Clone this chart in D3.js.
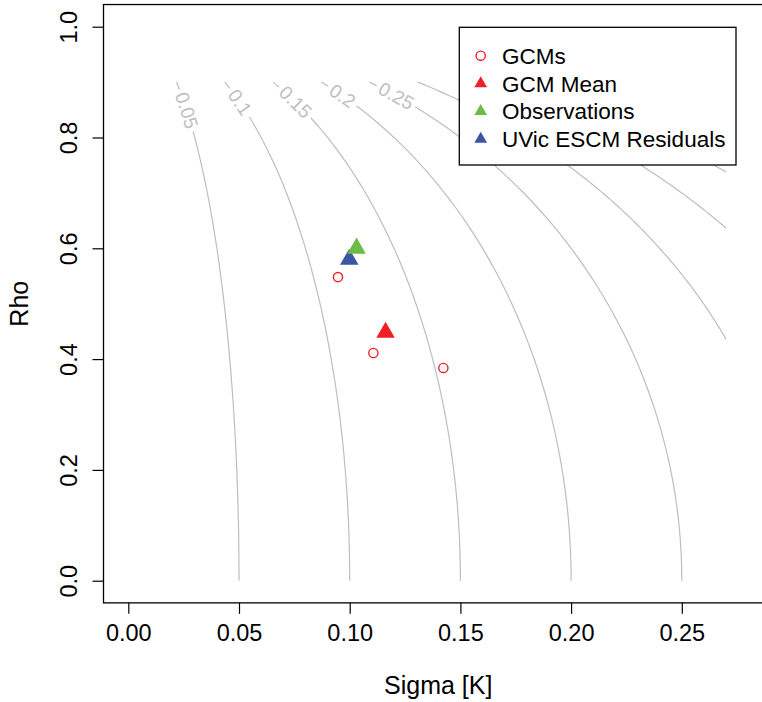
<!DOCTYPE html>
<html lang="en">
<head>
  <meta charset="UTF-8">
  <title>Sigma vs Rho</title>
  <script src="https://cdn.jsdelivr.net/npm/d3@7"></script>
  <style>
    body { margin: 0; background: #fff; }
    text { font-family: "Liberation Sans", Arial, Helvetica, sans-serif; }
  </style>
</head>
<body>
<div id="chart"></div>
<script>
// data
const gcmSigma = [0.0947, 0.1107, 0.1423];
const gcmRho = [0.548, 0.411, 0.384];
const meanSigma = [0.1162];
const meanRho = [0.448];
const obsSigma = [0.1031];
const obsRho = [0.600];
const uvicSigma = [0.0998];
const uvicRho = [0.580];

const xTicks = [0, 0.05, 0.10, 0.15, 0.20, 0.25];
const yTicks = [0, 0.2, 0.4, 0.6, 0.8, 1.0];
const contourLevels = [0.05, 0.1, 0.15, 0.2, 0.25, 0.3, 0.35, 0.4, 0.45, 0.5, 0.55, 0.6];
const labelledLevels = [0.05, 0.1, 0.15, 0.2, 0.25];
const sigmaGridMax = 0.27, rhoGridMax = 0.9;

const legendLabels = ["GCMs", "GCM Mean", "Observations", "UVic ESCM Residuals"];

const W = 762, H = 702;
const RED = "#ee2026", GREEN = "#6bbd45", BLUE = "#3a55a4", GREY = "#bebebe";

const x = d3.scaleLinear().domain([0, 0.25]).range([128.3, 681.8]);
const y = d3.scaleLinear().domain([0, 1]).range([580.7, 26.7]);

const svg = d3.select("#chart").append("svg")
  .attr("width", W).attr("height", H);

// contours of sigma / sqrt(1 - rho^2)
const sigmaAt = (L, r) => L * Math.sqrt(1 - r * r);
const line = d3.line().x(d => x(d[0])).y(d => y(d[1]));
const gC = svg.append("g");
contourLevels.forEach(L => {
  let rMin = 0;
  if (L > sigmaGridMax) rMin = Math.sqrt(1 - (sigmaGridMax / L) ** 2);
  if (rMin >= rhoGridMax) return;
  const pts = d3.range(0, 201).map(i => {
    const r = rhoGridMax - (rhoGridMax - rMin) * i / 200;
    return [sigmaAt(L, r), r];
  });
  const path = gC.append("path")
    .attr("d", line(pts))
    .attr("fill", "none").attr("stroke", GREY).attr("stroke-width", 1.2);

  if (labelledLevels.includes(L)) {
    const node = path.node();
    const txt = String(L);
    const fs = 19;
    const tw = txt.length * 0.5 * fs;
    const s = tw / 2 + 11;
    const p = node.getPointAtLength(s);
    const p2 = node.getPointAtLength(s + 1);
    const ang = Math.atan2(p2.y - p.y, p2.x - p.x) * 180 / Math.PI;
    const g = gC.append("g").attr("transform", `translate(${p.x},${p.y}) rotate(${ang})`);
    g.append("rect").attr("x", -tw / 2 - 3).attr("y", -fs / 2)
      .attr("width", tw + 6).attr("height", fs).attr("fill", "#fff");
    g.append("text").text(txt)
      .attr("text-anchor", "middle").attr("dy", "0.35em")
      .attr("font-size", fs).attr("fill", GREY);
  }
});

// axes
const xAxis = d3.axisBottom(x).tickValues(xTicks).tickSize(11).tickPadding(10)
  .tickFormat(d3.format(".2f"));
const gx = svg.append("g").attr("transform", `translate(0,${y(-0.04)})`).call(xAxis);
gx.select(".domain").remove();
gx.selectAll("line").attr("stroke", "#000").attr("stroke-width", 1.2);
gx.selectAll("text").attr("font-size", 23.5).attr("fill", "#000")
  .attr("font-family", "Liberation Sans, Arial, sans-serif");

const yAxis = d3.axisLeft(y).tickValues(yTicks).tickSize(11).tickFormat(d3.format(".1f"));
const gy = svg.append("g").attr("transform", `translate(${x(-0.0112)},0)`).call(yAxis);
gy.select(".domain").remove();
gy.selectAll("line").attr("stroke", "#000").attr("stroke-width", 1.2);
gy.selectAll("text").attr("font-size", 23.5).attr("fill", "#000")
  .attr("font-family", "Liberation Sans, Arial, sans-serif")
  .attr("x", null).attr("dy", null)
  .attr("text-anchor", "middle")
  .attr("transform", "translate(-27,0) rotate(-90)")
  .attr("y", 0);

// box
svg.append("rect")
  .attr("x", x(-0.0112)).attr("y", y(1.04))
  .attr("width", x(0.2912) - x(-0.0112)).attr("height", y(-0.04) - y(1.04))
  .attr("fill", "none").attr("stroke", "#000").attr("stroke-width", 1.3);

// axis titles
svg.append("text").text("Sigma [K]")
  .attr("x", (x(-0.0112) + x(0.2912)) / 2).attr("y", 694)
  .attr("text-anchor", "middle").attr("font-size", 25);
svg.append("text").text("Rho")
  .attr("transform", `translate(28,${(y(1.04) + y(-0.04)) / 2}) rotate(-90)`)
  .attr("text-anchor", "middle").attr("font-size", 25);

// points
const tri = d3.symbol().type(d3.symbolTriangle);
svg.append("g").selectAll("circle")
  .data(d3.zip(gcmSigma, gcmRho)).join("circle")
  .attr("cx", d => x(d[0])).attr("cy", d => y(d[1])).attr("r", 4.6)
  .attr("fill", "none").attr("stroke", RED).attr("stroke-width", 1.4);

[[meanSigma, meanRho, RED], [uvicSigma, uvicRho, BLUE], [obsSigma, obsRho, GREEN]].forEach(([sx, sy, c]) => {
  svg.append("g").selectAll("path")
    .data(d3.zip(sx, sy)).join("path")
    .attr("d", tri.size(149)())
    .attr("transform", d => `translate(${x(d[0])},${y(d[1])})`)
    .attr("fill", c);
});

// legend
const lg = svg.append("g");
lg.append("rect").attr("x", 459.3).attr("y", 27.3).attr("width", 276.7).attr("height", 137.7)
  .attr("fill", "#fff").attr("stroke", "#000").attr("stroke-width", 1.3);
const legendColors = [RED, RED, GREEN, BLUE];
legendLabels.forEach((lab, i) => {
  const cy = 55.7 + i * 27.8;
  if (i === 0) {
    lg.append("circle").attr("cx", 480.7).attr("cy", cy).attr("r", 4.6)
      .attr("fill", "none").attr("stroke", RED).attr("stroke-width", 1.4);
  } else {
    lg.append("path").attr("d", d3.symbol().type(d3.symbolTriangle).size(70)())
      .attr("transform", `translate(480.7,${cy})`).attr("fill", legendColors[i]);
  }
  lg.append("text").text(lab).attr("x", 502).attr("y", cy).attr("dy", "0.36em")
    .attr("font-size", 22.5).attr("fill", "#000");
});
</script>
</body>
</html>
